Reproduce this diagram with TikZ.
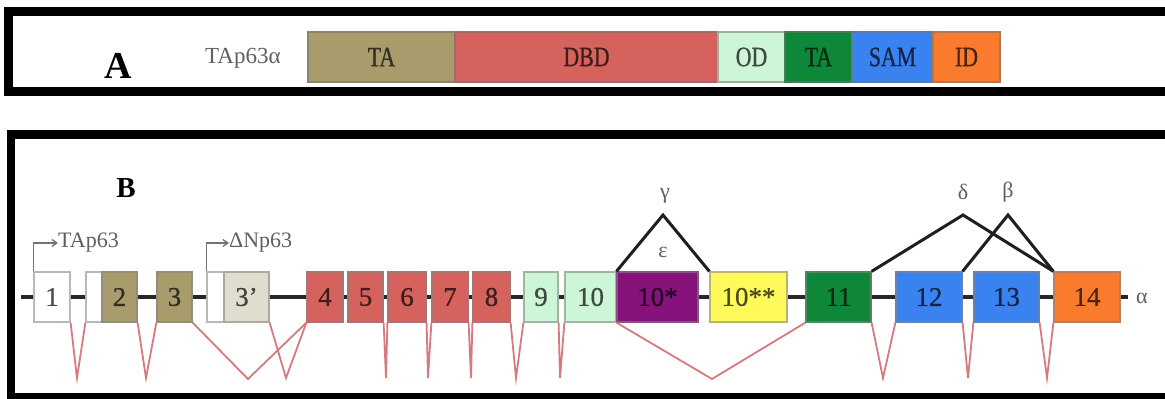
\documentclass[tikz,border=0pt]{standalone}
\usepackage{fontspec}
\setmainfont{Liberation Serif}
\newfontfamily\narrowfont[FakeStretch=0.78,FakeBold=0.8]{Liberation Serif}
\newfontfamily\exonfont[FakeBold=0.6]{Liberation Serif}
\usetikzlibrary{arrows.meta}

% domain / exon colours
\definecolor{taolive}{RGB}{168,155,108}
\definecolor{dbdred}{RGB}{214,98,94}
\definecolor{odgreen}{RGB}{204,246,214}
\definecolor{tagreen}{RGB}{14,136,56}
\definecolor{samblue}{RGB}{58,130,240}
\definecolor{idorange}{RGB}{250,122,46}
\definecolor{beige}{RGB}{224,220,206}
\definecolor{purpleten}{RGB}{134,18,124}
\definecolor{yellowten}{RGB}{255,249,92}
\definecolor{splicered}{RGB}{214,122,128}
\definecolor{labelgray}{RGB}{95,95,95}

\tikzset{
  panelframe/.style={draw=black, line width=9pt},
  domain/.style={rectangle, draw={#1!60!black!75}, line width=1.2pt, fill=#1,
    text={#1!30!black}, minimum height=50pt, inner sep=0pt,
    font=\narrowfont\fontsize{28}{30}\selectfont},
  exon/.style={rectangle, draw={#1!60!black!70}, line width=1.2pt, fill=#1,
    text={#1!30!black}, minimum height=50pt, inner sep=0pt,
    font=\exonfont\fontsize{27}{30}\selectfont},
  panelletter/.style={anchor=base, inner sep=0pt, font=\bfseries\fontsize{#1}{#1}\selectfont},
  graylabel/.style={text=labelgray, inner sep=0pt, font=\fontsize{22}{24}\selectfont},
  backbone/.style={draw=black!85, line width=4.5pt},
  splice/.style={draw=splicered, line width=1.8pt, line join=miter},
  exonskip/.style={draw=black!88, line width=3pt, line join=miter},
  promoter/.style={draw=black!55, line width=1.3pt, -{Straight Barb[length=5pt,width=7pt]}},
}

\begin{document}
\begin{tikzpicture}[x=1pt, y=-1pt]
\useasboundingbox (0,0) rectangle (1165,399);
\clip (0,0) rectangle (1165,399);
\fill[white] (0,0) rectangle (1165,399);

% ---------- panel A: protein domains ----------
\draw[panelframe] (8.5,11.5) rectangle (1169,91.5);
\node[panelletter=38] (labA) at (118,78) {A};
\node[graylabel, anchor=base west, font=\fontsize{23}{25}\selectfont] (prot) at (205,63) {TAp63α};

\node[domain=taolive,   minimum width=147pt] (dTA)  at (381.5,57) {TA};
\node[domain=dbdred,    minimum width=263pt] (dDBD) at (586.5,57) {DBD};
\node[domain=odgreen,   minimum width=67pt]  (dOD)  at (751.5,57) {OD};
\node[domain=tagreen,   minimum width=67pt]  (dTAb) at (818.5,57) {TA};
\node[domain=samblue,   minimum width=81pt]  (dSAM) at (892.5,57) {SAM};
\node[domain=idorange,  minimum width=67pt]  (dID)  at (966.5,57) {ID};

% ---------- panel B: gene structure ----------
\draw[panelframe, line width=8.5pt] (11,134.5) rectangle (1176,397.5);
\node[panelletter=29] (labB) at (126,197) {B};

\coordinate (ls) at (21,297);
\coordinate (le) at (1128,297);
\draw[backbone] (ls) -- (le);

\node[exon=white,     minimum width=36pt] (e1)    at (52,297)    {1};
\node[exon=white,     minimum width=16pt] (e2u)   at (94,297)    {};
\node[exon=taolive,   minimum width=35pt] (e2)    at (119.5,297) {2};
\node[exon=taolive,   minimum width=35pt] (e3)    at (174.5,297) {3};
\node[exon=white,     minimum width=17pt] (e3u)   at (215.5,297) {};
\node[exon=beige,     minimum width=45pt] (e3p)   at (246.5,297) {3’};
\node[exon=dbdred,    minimum width=36pt] (e4)    at (325,297)   {4};
\node[exon=dbdred,    minimum width=35pt] (e5)    at (365.5,297) {5};
\node[exon=dbdred,    minimum width=38pt] (e6)    at (407,297)   {6};
\node[exon=dbdred,    minimum width=36pt] (e7)    at (450,297)   {7};
\node[exon=dbdred,    minimum width=37pt] (e8)    at (491.5,297) {8};
\node[exon=odgreen,   minimum width=34pt] (e9)    at (541,297)   {9};
\node[exon=odgreen,   minimum width=51pt] (e10)   at (590.5,297) {10};
\node[exon=purpleten, minimum width=81pt] (e10s)  at (657.5,297) {10*};
\node[exon=yellowten, minimum width=77pt] (e10ss) at (748.5,297) {10**};
\node[exon=tagreen,   minimum width=65pt] (e11)   at (838.5,297) {11};
\node[exon=samblue,   minimum width=66pt] (e12)   at (929,297)   {12};
\node[exon=samblue,   minimum width=65pt] (e13)   at (1006.5,297) {13};
\node[exon=idorange,  minimum width=66pt] (e14)   at (1087,297)  {14};

% promoters
\node[graylabel, anchor=west] (tap)  at (58,243)  {TAp63};
\node[graylabel, anchor=west] (dnp)  at (229,243) {ΔNp63};
\draw[promoter] (e1.north west) |- (tap.west);
\draw[promoter] (e3u.north west) |- (dnp.west);

% splicing below the backbone
\coordinate (v1)  at (77,378);
\coordinate (v2)  at (146,378);
\coordinate (v3)  at (248,379);
\coordinate (v4)  at (286,378);
\coordinate (v5)  at (386,378);
\coordinate (v6)  at (428,378);
\coordinate (v7)  at (471,378);
\coordinate (v8)  at (516,378);
\coordinate (v9)  at (560,378);
\coordinate (v10) at (712,379);
\coordinate (v11) at (883,378);
\coordinate (v12) at (968,378);
\coordinate (v13) at (1047,378);
\draw[splice] (e1.south east)   -- (v1)  -- (e2u.south west);
\draw[splice] (e2.south east)   -- (v2)  -- (e3.south west);
\draw[splice] (e3.south east)   -- (v3)  -- (e4.south west);
\draw[splice] (e3p.south east)  -- (v4)  -- (e4.south west);
\draw[splice] (e5.south east)   -- (v5)  -- (e6.south west);
\draw[splice] (e6.south east)   -- (v6)  -- (e7.south west);
\draw[splice] (e7.south east)   -- (v7)  -- (e8.south west);
\draw[splice] (e8.south east)   -- (v8)  -- (e9.south west);
\draw[splice] (e9.south east)   -- (v9)  -- (e10.south west);
\draw[splice] (e10s.south west) -- (v10) -- (e11.south west);
\draw[splice] (e11.south east)  -- (v11) -- (e12.south west);
\draw[splice] (e12.south east)  -- (v12) -- (e13.south west);
\draw[splice] (e13.south east)  -- (v13) -- (e14.south west);

% alternative splicing above the backbone
\coordinate (gam) at (663,215);
\coordinate (del) at (963,215);
\coordinate (bet) at (1008,215);
\draw[exonskip] (e10s.north west) -- (gam) -- (e10ss.north west);
\draw[exonskip] (e11.north east)  -- (del) -- (e14.north west);
\draw[exonskip] (e12.north east)  -- (bet) -- (e14.north west);

\node[graylabel] (lgam) at (665,196)  {γ};
\node[graylabel] (leps) at (663,252)  {ε};
\node[graylabel] (ldel) at (963,192)  {δ};
\node[graylabel] (lbet) at (1008,192) {β};
\node[graylabel] (lalp) at (1142,298) {α};
\end{tikzpicture}
\end{document}
